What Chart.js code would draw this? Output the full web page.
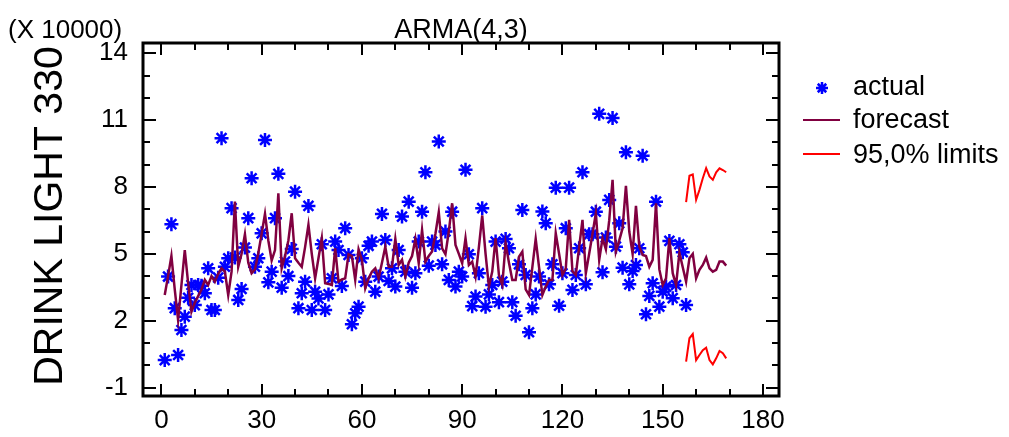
<!DOCTYPE html>
<html lang="en">
<head>
  <meta charset="UTF-8" />
  <title>ARMA(4,3)</title>
  <style>
    body {
      margin: 0;
      background: #ffffff;
    }

    #wrap {
      width: 1009px;
      height: 437px;
    }
  </style>
</head>
<body>
  <div id="wrap"><canvas id="armaChart" width="1009" height="437"></canvas></div>

  <script src="https://cdn.jsdelivr.net/npm/chart.js"></script>
  <script>
    // DRINK LIGHT 330, in units of 10000, one value per period (t = 1..157)
    const actual = [
      0.23, 3.98, 6.33, 2.56, 0.46, 1.58, 2.18, 3.03, 3.6, 2.7,
      3.6, 3.57, 3.23, 4.35, 2.48, 2.48, 3.93, 10.19, 4.42, 4.8,
      7.05, 4.83, 2.93, 3.42, 5.28, 6.6, 8.39, 4.42, 4.8, 5.92,
      10.11, 3.72, 4.2, 6.6, 8.59, 3.48, 4.65, 4.0, 5.22, 7.79,
      2.56, 3.23, 3.75, 7.15, 2.48, 3.3, 3.0, 5.43, 2.48, 3.18,
      3.9, 5.55, 5.17, 3.56, 6.15, 4.95, 1.84, 2.33, 2.63, 4.8,
      3.75, 5.36, 5.55, 3.3, 3.98, 6.79, 5.62, 3.78, 4.35, 3.53,
      5.17, 6.67, 4.2, 7.34, 3.48, 4.13, 5.55, 6.89, 8.66, 4.47,
      5.55, 5.4, 10.04, 4.53, 6.0, 3.83, 6.89, 3.53, 4.2, 3.98,
      8.77, 4.98, 2.65, 3.08, 4.13, 7.05, 2.63, 3.18, 3.6, 5.55,
      2.83, 3.75, 5.67, 5.25, 2.83, 2.22, 4.53, 6.97, 4.05, 1.48,
      2.56, 3.18, 3.98, 6.9, 6.37, 3.63, 4.53, 7.97, 2.67, 4.13,
      6.15, 7.97, 3.38, 4.05, 5.25, 8.66, 3.63, 5.88, 5.88, 6.89,
      11.28, 4.17, 5.73, 7.42, 11.09, 5.32, 6.37, 4.38, 9.56, 3.63,
      4.23, 4.5, 5.25, 9.4, 2.29, 3.11, 3.68, 7.34, 2.63, 3.3,
      3.53, 5.58, 3.01, 3.6, 5.43, 5.07, 2.7
    ];

    // fitted values and forecasts, t = 1..169
    const forecast = [
      3.15, 4.0, 4.9, 3.4, 2.03, 3.6, 5.17, 3.7, 2.4, 2.8,
      3.1, 3.4, 3.83, 3.6, 4.0, 3.75, 4.1, 4.35, 4.2, 3.15,
      4.2, 7.34, 4.42, 5.0, 5.88, 4.6, 4.13, 4.3, 5.03, 5.9,
      6.79, 5.6, 4.7, 5.17, 7.72, 4.35, 4.9, 5.6, 6.82, 4.8,
      4.6, 4.42, 5.3, 6.3, 5.0, 3.9, 4.8, 5.7, 3.68, 3.65,
      3.6, 5.25, 3.75, 3.85, 3.9, 4.98, 4.9, 3.83, 5.2, 4.73,
      3.45, 3.9, 4.2, 4.35, 3.9, 4.6, 5.32, 4.42, 4.42, 5.67,
      4.5, 4.73, 3.98, 4.6, 4.9, 5.67, 4.58, 6.07, 4.65, 4.9,
      5.1, 5.9, 6.87, 5.25, 4.98, 6.0, 7.27, 5.4, 5.0, 4.58,
      5.7, 4.5, 4.65, 3.98, 5.3, 6.72, 5.0, 3.53, 4.2, 5.7,
      4.05, 3.6, 5.47, 4.6, 3.83, 3.83, 4.87, 5.1, 3.4, 3.15,
      4.4, 5.67, 4.4, 3.15, 3.53, 3.83, 3.83, 5.92, 5.0, 4.05,
      4.35, 6.52, 4.23, 4.05, 5.3, 6.52, 4.13, 5.0, 5.9, 6.82,
      4.73, 5.7, 5.2, 6.5, 8.32, 5.1, 5.6, 6.15, 8.05, 6.0,
      5.0, 7.15, 5.32, 4.95, 4.9, 4.42, 4.73, 7.27, 4.3, 3.6,
      3.9, 5.7, 4.13, 3.6, 5.05, 4.4, 3.75, 4.8, 5.0, 3.9,
      4.28, 4.5, 4.83, 4.35, 4.2, 4.28, 4.65, 4.65, 4.47
    ];

    // 95,0% limits, t = 157..169
    const limitStart = 157;
    const upperLimit = [7.32, 8.5, 8.56, 7.42, 7.87, 8.39, 8.84, 8.47, 8.32, 8.66, 8.84, 8.76, 8.66];
    const lowerLimit = [0.16, 1.21, 1.4, 0.23, 0.46, 0.68, 0.79, 0.23, 0.04, 0.31, 0.64, 0.54, 0.31];

    const xTicks = [0, 10, 20, 30, 40, 50, 60, 70, 80, 90, 100, 110, 120, 130, 140, 150, 160, 170, 180];
    const xLabels = [0, 30, 60, 90, 120, 150, 180];
    const yTicks = [-1, 0, 1, 2, 3, 4, 5, 6, 7, 8, 9, 10, 11, 12, 13, 14];
    const yLabels = [-1, 2, 5, 8, 11, 14];

    const FONT = '"Liberation Sans", Arial, sans-serif';

    // frame with inward tick marks on all four sides
    const frameTicks = {
      id: 'frameTicks',
      afterDatasetsDraw(chart) {
        const { ctx, chartArea: a, scales: { x, y } } = chart;
        ctx.save();
        ctx.strokeStyle = '#000';
        ctx.lineWidth = 2;
        ctx.beginPath();
        x.ticks.forEach(t => {
          const px = Math.round(x.getPixelForValue(t.value));
          const len = xLabels.includes(t.value) ? 12 : 7;
          ctx.moveTo(px, a.bottom); ctx.lineTo(px, a.bottom - len);
          ctx.moveTo(px, a.top); ctx.lineTo(px, a.top + len);
        });
        y.ticks.forEach(t => {
          const py = Math.round(y.getPixelForValue(t.value));
          const len = yLabels.includes(t.value) ? 13 : 7;
          ctx.moveTo(a.left, py); ctx.lineTo(a.left + len, py);
          ctx.moveTo(a.right, py); ctx.lineTo(a.right - len, py);
        });
        ctx.stroke();
        ctx.lineWidth = 3;
        ctx.strokeRect(a.left, a.top, a.right - a.left, a.bottom - a.top);
        ctx.restore();
      }
    };

    // title, unit note, axis title and legend
    const texts = {
      id: 'texts',
      afterDraw(chart) {
        const { ctx, chartArea: a } = chart;
        ctx.save();
        ctx.fillStyle = '#000';
        ctx.textBaseline = 'alphabetic';

        ctx.font = '27px ' + FONT;
        ctx.textAlign = 'center';
        ctx.fillText('ARMA(4,3)', (a.left + a.right) / 2, 38);
        ctx.font = '26px ' + FONT;
        ctx.textAlign = 'left';
        ctx.fillText('(X 10000)', 8, 38);

        ctx.save();
        ctx.translate(62, 216);
        ctx.rotate(-Math.PI / 2);
        ctx.font = '41px ' + FONT;
        ctx.textAlign = 'center';
        ctx.fillText('DRINK LIGHT 330', 0, 0);
        ctx.restore();

        const lx = a.right + 24;
        const tx = a.right + 74;
        ctx.strokeStyle = '#0000ff';
        ctx.lineWidth = 2.5;
        const sx = a.right + 43, sy = 88, r = 6;
        ctx.beginPath();
        for (let k = 0; k < 4; k++) {
          const ang = k * Math.PI / 4;
          ctx.moveTo(sx - r * Math.cos(ang), sy - r * Math.sin(ang));
          ctx.lineTo(sx + r * Math.cos(ang), sy + r * Math.sin(ang));
        }
        ctx.stroke();

        ctx.lineWidth = 2;
        ctx.strokeStyle = '#800040';
        ctx.beginPath(); ctx.moveTo(lx, 120); ctx.lineTo(lx + 37, 120); ctx.stroke();
        ctx.strokeStyle = '#ff0000';
        ctx.beginPath(); ctx.moveTo(lx, 154); ctx.lineTo(lx + 37, 154); ctx.stroke();

        ctx.font = '27px ' + FONT;
        ctx.textAlign = 'left';
        ctx.fillText('actual', tx, 95);
        ctx.fillText('forecast', tx, 128);
        ctx.fillText('95,0% limits', tx, 163);
        ctx.restore();
      }
    };

    function drawChart() {
      const ctx = document.getElementById('armaChart').getContext('2d');

      new Chart(ctx, {
        type: 'scatter',
        data: {
          datasets: [
            {
              label: 'actual',
              data: actual.map((v, i) => ({ x: i + 1, y: v })),
              showLine: false,
              pointStyle: 'star',
              pointRadius: 7,
              pointBorderWidth: 2.5,
              borderColor: '#0000ff',
              backgroundColor: '#0000ff',
              order: 2
            },
            {
              label: 'forecast',
              data: forecast.map((v, i) => ({ x: i + 1, y: v })),
              showLine: true,
              borderColor: '#800040',
              borderWidth: 2.5,
              pointRadius: 0,
              order: 1
            },
            {
              label: 'upper',
              data: upperLimit.map((v, i) => ({ x: limitStart + i, y: v })),
              showLine: true,
              borderColor: '#ff0000',
              borderWidth: 2,
              pointRadius: 0,
              order: 1
            },
            {
              label: 'lower',
              data: lowerLimit.map((v, i) => ({ x: limitStart + i, y: v })),
              showLine: true,
              borderColor: '#ff0000',
              borderWidth: 2,
              pointRadius: 0,
              order: 1
            }
          ]
        },
        options: {
          responsive: false,
          animation: false,
          layout: { padding: { top: 43, right: 230, left: 0, bottom: 0 } },
          scales: {
            x: {
              type: 'linear',
              min: -5.5,
              max: 184.8,
              afterBuildTicks: s => { s.ticks = xTicks.map(v => ({ value: v })); },
              afterFit: s => { s.height = 41; },
              grid: { display: false, drawTicks: false },
              border: { display: false },
              ticks: {
                autoSkip: false,
                maxRotation: 0,
                padding: 9,
                color: '#000',
                font: { size: 26, family: FONT },
                callback: v => xLabels.includes(v) ? String(v) : ''
              }
            },
            y: {
              type: 'linear',
              min: -1.38,
              max: 14.46,
              afterBuildTicks: s => { s.ticks = yTicks.map(v => ({ value: v })); },
              afterFit: s => { s.width = 143; },
              grid: { display: false, drawTicks: false },
              border: { display: false },
              ticks: {
                autoSkip: false,
                padding: 15,
                color: '#000',
                font: { size: 26, family: FONT },
                callback: v => yLabels.includes(v) ? String(v) : ''
              }
            }
          },
          plugins: {
            legend: { display: false },
            tooltip: { enabled: false }
          }
        },
        plugins: [frameTicks, texts]
      });
    }

    window.onload = drawChart;
  </script>
</body>
</html>
